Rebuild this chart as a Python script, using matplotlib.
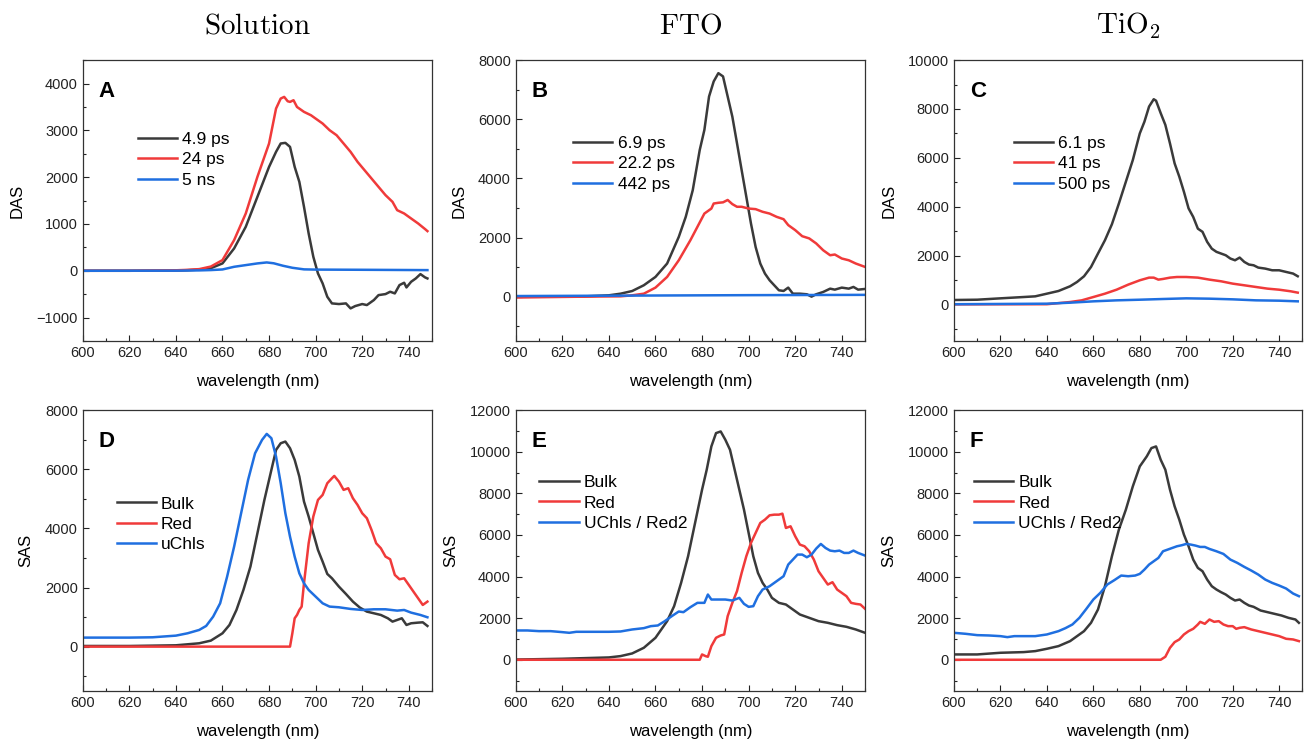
import matplotlib
matplotlib.use("Agg")
import matplotlib.pyplot as plt
from matplotlib.ticker import MultipleLocator

plt.rcParams['font.family'] = ['Liberation Sans', 'DejaVu Sans']
plt.rcParams['mathtext.fontset'] = 'cm'

# ---------------- Panel A (Solution, DAS) ----------------
A_black_x = [600, 620, 640, 645, 650, 655, 660, 665, 670, 675, 680, 683, 685, 687, 689, 690, 691, 693, 695, 697,
             699, 701, 703, 705, 707, 710, 713, 715, 717, 720, 722, 725, 727, 730, 732, 734, 736, 738, 739, 741,
             743, 745, 747, 748]
A_black_y = [0, 0, 5, 12, 25, 55, 157, 477, 940, 1580, 2220, 2541, 2719, 2733, 2647, 2434, 2220, 1900, 1366, 797,
             300, -57, -270, -555, -697, -711, -697, -804, -754, -711, -733, -626, -520, -498, -448, -484, -306, -256, -356, -235,
             -164, -71, -142, -164]
A_red_x = [600, 620, 640, 645, 650, 655, 660, 665, 670, 675, 680, 683, 685, 686.5, 688, 689, 690.5, 692, 695, 698,
           700, 703, 706, 709, 712, 715, 718, 721, 724, 727, 730, 733, 735, 738, 741, 744, 747, 748]
A_red_y = [0, 0, 10, 20, 35, 90, 228, 655, 1224, 2007, 2719, 3466, 3680, 3715, 3622, 3608, 3644, 3500, 3395, 3323,
           3252, 3146, 3003, 2896, 2719, 2541, 2327, 2149, 1971, 1793, 1616, 1473, 1295, 1224, 1117, 1011, 890, 847]
A_blue_x = [600, 640, 650, 655, 660, 665, 670, 675, 679, 682, 686, 690, 695, 700, 720, 748]
A_blue_y = [0, 2, 8, 15, 28, 85, 121, 157, 178, 160, 107, 64, 30, 25, 21, 14]

# ---------------- Panel B (FTO, DAS) ----------------
B_black_x = [600, 630, 640, 645, 650, 655, 660, 665, 670, 673, 676, 679, 681, 683, 685, 687, 689, 691, 693, 695,
             697, 699, 701, 703, 705, 707, 709, 711, 713, 715, 717, 719, 722, 725, 727, 729, 732, 735, 737, 740,
             743, 745, 747, 750]
B_black_y = [0, 10, 45, 100, 190, 385, 667, 1120, 2020, 2700, 3600, 4960, 5640, 6770, 7280, 7560, 7450, 6770, 6090, 5190,
             4280, 3380, 2475, 1680, 1120, 780, 554, 384, 215, 192, 305, 100, 100, 80, 0, 80, 158, 270, 237, 305,
             270, 328, 237, 260]
B_red_x = [600, 630, 645, 650, 655, 660, 665, 670, 675, 678, 681, 684, 685, 687, 689, 691, 693, 695, 697, 700,
           703, 706, 709, 712, 715, 717, 720, 723, 726, 729, 732, 735, 737, 740, 743, 746, 750]
B_red_y = [-30, 0, 10, 45, 100, 305, 667, 1230, 1910, 2360, 2810, 2980, 3150, 3175, 3190, 3270, 3130, 3040, 3040, 2980,
           2960, 2870, 2810, 2700, 2620, 2420, 2250, 2045, 1970, 1800, 1570, 1400, 1425, 1290, 1230, 1120, 1005]
B_blue_x = [600, 650, 700, 750]
B_blue_y = [20, 35, 50, 60]

# ---------------- Panel C (TiO2, DAS) ----------------
C_black_x = [600, 610, 620, 630, 635, 640, 645, 650, 653, 656, 659, 662, 665, 668, 671, 674, 677, 680, 682, 684,
             686, 687, 689, 691, 693, 695, 697, 699, 701, 703, 705, 707, 709, 711, 713, 715, 717, 719, 721, 723,
             725, 727, 729, 731, 734, 737, 740, 743, 746, 748]
C_black_y = [178, 190, 246, 300, 328, 437, 547, 740, 917, 1150, 1530, 2080, 2626, 3280, 4130, 5020, 5910, 7000, 7480, 8100,
             8400, 8340, 7830, 7350, 6590, 5770, 5230, 4610, 3930, 3580, 3100, 2970, 2560, 2280, 2150, 2080, 2010, 1875, 1805, 1915,
             1737, 1630, 1600, 1505, 1464, 1395, 1395, 1327, 1260, 1150]
C_red_x = [600, 640, 650, 655, 660, 665, 670, 675, 680, 684, 686, 688, 690, 693, 696, 700, 705, 710, 715, 720,
           725, 730, 735, 740, 745, 748]
C_red_y = [0, 5, 95, 164, 300, 437, 600, 807, 985, 1094, 1094, 1012, 1040, 1094, 1120, 1120, 1094, 1012, 944, 848,
           780, 711, 643, 600, 534, 479]
C_blue_x = [600, 640, 650, 660, 670, 680, 690, 700, 710, 720, 730, 740, 748]
C_blue_y = [5, 27, 68, 123, 164, 190, 219, 246, 232, 205, 164, 150, 123]

# ---------------- Panel D (Solution, SAS) ----------------
D_black_x = [600, 620, 640, 650, 655, 660, 663, 666, 669, 672, 675, 678, 681, 683, 685, 687, 689, 691, 693, 695,
             697, 699, 701, 703, 705, 707, 710, 713, 716, 719, 722, 725, 728, 731, 733, 735, 737, 739, 741, 744,
             746, 748]
D_black_y = [22, 22, 45, 113, 203, 451, 733, 1240, 1918, 2707, 3835, 4963, 5978, 6655, 6880, 6937, 6712, 6317, 5753, 4907,
             4400, 3835, 3271, 2876, 2459, 2312, 2030, 1782, 1523, 1320, 1184, 1128, 1071, 959, 846, 902, 959, 733, 790, 812,
             823, 699]
D_red_x = [600, 689, 690, 691, 692, 693, 694, 695, 697, 699, 701, 703, 705, 707, 708, 710, 712, 714, 716, 718,
           720, 722, 724, 726, 728, 730, 732, 734, 736, 738, 740, 742, 744, 746, 748]
D_red_y = [0, 0, 451, 959, 1071, 1240, 1354, 2143, 3497, 4400, 4963, 5132, 5527, 5696, 5775, 5583, 5302, 5358, 5020, 4794,
           4512, 4343, 3948, 3497, 3328, 3046, 2955, 2425, 2279, 2312, 2087, 1861, 1636, 1410, 1523]
D_blue_x = [600, 620, 630, 640, 645, 650, 653, 656, 659, 662, 665, 668, 671, 674, 677, 679, 681, 683, 685, 687,
            689, 691, 693, 695, 697, 700, 703, 706, 710, 715, 720, 725, 730, 735, 738, 741, 745, 748]
D_blue_y = [305, 305, 316, 372, 451, 564, 700, 1015, 1466, 2370, 3384, 4512, 5640, 6542, 6994, 7197, 7050, 6430, 5530, 4512,
            3720, 3045, 2480, 2143, 1918, 1692, 1466, 1354, 1331, 1275, 1240, 1263, 1263, 1218, 1240, 1150, 1071, 993]

# ---------------- Panel E (FTO, SAS) ----------------
E_black_x = [600, 620, 640, 645, 650, 655, 660, 665, 668, 671, 674, 677, 680, 682, 684, 686, 688, 690, 692, 694,
             696, 698, 700, 702, 704, 706, 708, 710, 713, 716, 719, 722, 726, 730, 734, 738, 742, 746, 750]
E_black_y = [10, 48, 112, 176, 304, 576, 1056, 1856, 2576, 3696, 4976, 6576, 8176, 9136, 10256, 10896, 10976, 10576, 10096, 9136,
             8176, 7216, 6096, 4976, 4176, 3696, 3376, 2976, 2736, 2656, 2416, 2176, 2016, 1856, 1776, 1664, 1584, 1456, 1296]
E_red_x = [600, 679, 680, 681.5, 682.5, 684, 686, 688, 689.5, 691, 693, 695, 697, 699, 701, 703, 705, 707, 709, 711,
           713, 714.5, 716, 718, 720, 722, 724, 726, 728, 730, 732, 734, 736, 738, 740, 742, 744, 746, 748, 750]
E_red_y = [0, 0, 256, 176, 144, 656, 1056, 1168, 1216, 2096, 2736, 3296, 4176, 4976, 5616, 6096, 6576, 6736, 6944, 6976,
           6976, 7024, 6336, 6416, 5936, 5536, 5456, 5216, 4816, 4256, 3936, 3616, 3728, 3376, 3216, 3056, 2736, 2688, 2656, 2448]
E_blue_x = [600, 605, 610, 615, 620, 623, 626, 630, 640, 645, 650, 655, 658, 661, 664, 667, 670, 672, 675, 678,
            681, 682.5, 684, 686, 690, 693, 696, 698, 700, 702, 704, 706, 709, 712, 715, 717, 719, 721, 723, 725,
            727, 729, 731, 733, 735, 737, 739, 741, 743, 745, 747, 750]
E_blue_y = [1408, 1408, 1376, 1376, 1328, 1296, 1344, 1344, 1344, 1360, 1456, 1520, 1616, 1648, 1856, 2096, 2320, 2288, 2528, 2736,
            2736, 3136, 2896, 2896, 2896, 2848, 2976, 2688, 2544, 2576, 3056, 3376, 3536, 3776, 4016, 4576, 4816, 5056, 5056, 4928,
            5056, 5344, 5568, 5376, 5248, 5216, 5248, 5136, 5136, 5248, 5136, 5008]

# ---------------- Panel F (TiO2, SAS) ----------------
F_black_x = [600, 610, 620, 630, 635, 640, 645, 650, 653, 656, 659, 662, 665, 668, 671, 674, 677, 680, 683, 685,
             687, 689, 691, 693, 695, 697, 699, 701, 703, 705, 707, 709, 711, 713, 715, 717, 719, 721, 723, 725,
             727, 729, 732, 735, 738, 741, 744, 747, 748.5]
F_black_y = [256, 256, 336, 368, 416, 528, 656, 896, 1136, 1376, 1776, 2416, 3536, 4976, 6256, 7216, 8336, 9296, 9776, 10176,
             10256, 9616, 9136, 8176, 7376, 6736, 6016, 5456, 4816, 4416, 4256, 3856, 3536, 3376, 3248, 3136, 2976, 2848, 2896, 2736,
             2608, 2544, 2368, 2288, 2208, 2128, 2016, 1936, 1776]
F_red_x = [600, 689, 691, 693, 695, 697, 699, 701, 703, 705, 706, 708, 710, 712, 714, 716, 718, 720, 721.5, 723,
           725, 728, 731, 734, 737, 740, 743, 746, 748.5]
F_red_y = [0, 0, 144, 576, 848, 976, 1216, 1376, 1488, 1696, 1824, 1728, 1936, 1824, 1856, 1696, 1616, 1616, 1488, 1536,
           1568, 1456, 1376, 1296, 1216, 1136, 1008, 976, 896]
F_blue_x = [600, 605, 610, 615, 620, 623, 626, 630, 635, 640, 645, 648, 651, 654, 657, 660, 663, 666, 669, 672,
            675, 678, 680, 682, 684, 686, 688, 690, 692, 694, 696, 698, 700, 702, 704, 706, 708, 710, 713, 716,
            719, 722, 725, 728, 731, 734, 737, 740, 743, 746, 748.5]
F_blue_y = [1296, 1248, 1184, 1168, 1136, 1088, 1136, 1136, 1136, 1216, 1376, 1520, 1696, 2016, 2448, 2896, 3216, 3616, 3824, 4048,
            4016, 4048, 4128, 4336, 4576, 4736, 4896, 5216, 5296, 5376, 5456, 5504, 5568, 5536, 5488, 5424, 5424, 5328, 5216, 5088,
            4816, 4656, 4464, 4288, 4096, 3856, 3696, 3568, 3424, 3184, 3056]

column_titles = [r'$\mathrm{Solution}$', r'$\mathrm{FTO}$', r'$\mathrm{TiO_2}$']
panel_letters = ['A', 'B', 'C', 'D', 'E', 'F']
A_labels = ['4.9 ps', '24 ps', '5 ns']
B_labels = ['6.9 ps', '22.2 ps', '442 ps']
C_labels = ['6.1 ps', '41 ps', '500 ps']
SAS_labels_D = ['Bulk', 'Red', 'uChls']
SAS_labels_EF = ['Bulk', 'Red', 'UChls / Red2']

BLACK = '#3a3a3a'
RED = '#f03a3a'
BLUE = '#1f6fe0'
colors = [BLACK, RED, BLUE]

fig = plt.figure(figsize=(13.05, 7.39), dpi=100)

lefts = [0.0634, 0.3952, 0.7310]
widths = [0.2677, 0.2677, 0.2670]
bottoms = [0.5386, 0.065]
height = 0.3800

panels = [
    dict(series=[(A_black_x, A_black_y), (A_red_x, A_red_y), (A_blue_x, A_blue_y)], labels=A_labels,
         ylim=(-1500, 4500), major=1000, minor=500, ylabel='DAS', leg=(0.158, 0.745)),
    dict(series=[(B_black_x, B_black_y), (B_red_x, B_red_y), (B_blue_x, B_blue_y)], labels=B_labels,
         ylim=(-1500, 8000), major=2000, minor=1000, ylabel='DAS', leg=(0.165, 0.730)),
    dict(series=[(C_black_x, C_black_y), (C_red_x, C_red_y), (C_blue_x, C_blue_y)], labels=C_labels,
         ylim=(-1500, 10000), major=2000, minor=1000, ylabel='DAS', leg=(0.172, 0.730)),
    dict(series=[(D_black_x, D_black_y), (D_red_x, D_red_y), (D_blue_x, D_blue_y)], labels=SAS_labels_D,
         ylim=(-1500, 8000), major=2000, minor=1000, ylabel='SAS', leg=(0.097, 0.693)),
    dict(series=[(E_black_x, E_black_y), (E_red_x, E_red_y), (E_blue_x, E_blue_y)], labels=SAS_labels_EF,
         ylim=(-1500, 12000), major=2000, minor=1000, ylabel='SAS', leg=(0.068, 0.769)),
    dict(series=[(F_black_x, F_black_y), (F_red_x, F_red_y), (F_blue_x, F_blue_y)], labels=SAS_labels_EF,
         ylim=(-1500, 12000), major=2000, minor=1000, ylabel='SAS', leg=(0.058, 0.769)),
]

for i, p in enumerate(panels):
    r, c = divmod(i, 3)
    ax = fig.add_axes([lefts[c], bottoms[r], widths[c], height])
    for (x, y), col, lab in zip(p['series'], colors, p['labels']):
        ax.plot(x, y, color=col, lw=1.8, label=lab)
    ax.set_xlim(600, 750)
    ax.set_ylim(*p['ylim'])
    ax.xaxis.set_major_locator(MultipleLocator(20))
    ax.xaxis.set_minor_locator(MultipleLocator(10))
    ax.yaxis.set_major_locator(MultipleLocator(p['major']))
    ax.yaxis.set_minor_locator(MultipleLocator(p['minor']))
    ax.tick_params(which='both', direction='in', top=False, right=False, labelsize=10.5, colors='#222222')
    ax.tick_params(which='major', length=4, width=0.8)
    ax.tick_params(which='minor', length=2.5, width=0.8)
    for s in ax.spines.values():
        s.set_linewidth(0.9)
        s.set_color('#333333')
    ax.set_xlabel('wavelength (nm)', fontsize=12, labelpad=10)
    ax.set_ylabel(p['ylabel'], fontsize=12, labelpad=8.5)
    ax.text(0.045, 0.925, panel_letters[i], transform=ax.transAxes, fontsize=16,
            fontweight='bold', ha='left', va='top')
    ax.legend(loc='upper left', bbox_to_anchor=p['leg'], frameon=False, fontsize=12.5,
              handlelength=2.25, handletextpad=0.3, labelspacing=0.3, borderpad=0,
              borderaxespad=0)
    if r == 0:
        ax.set_title(column_titles[c], fontsize=21, pad=19)

fig.savefig('out.png', dpi=100)
